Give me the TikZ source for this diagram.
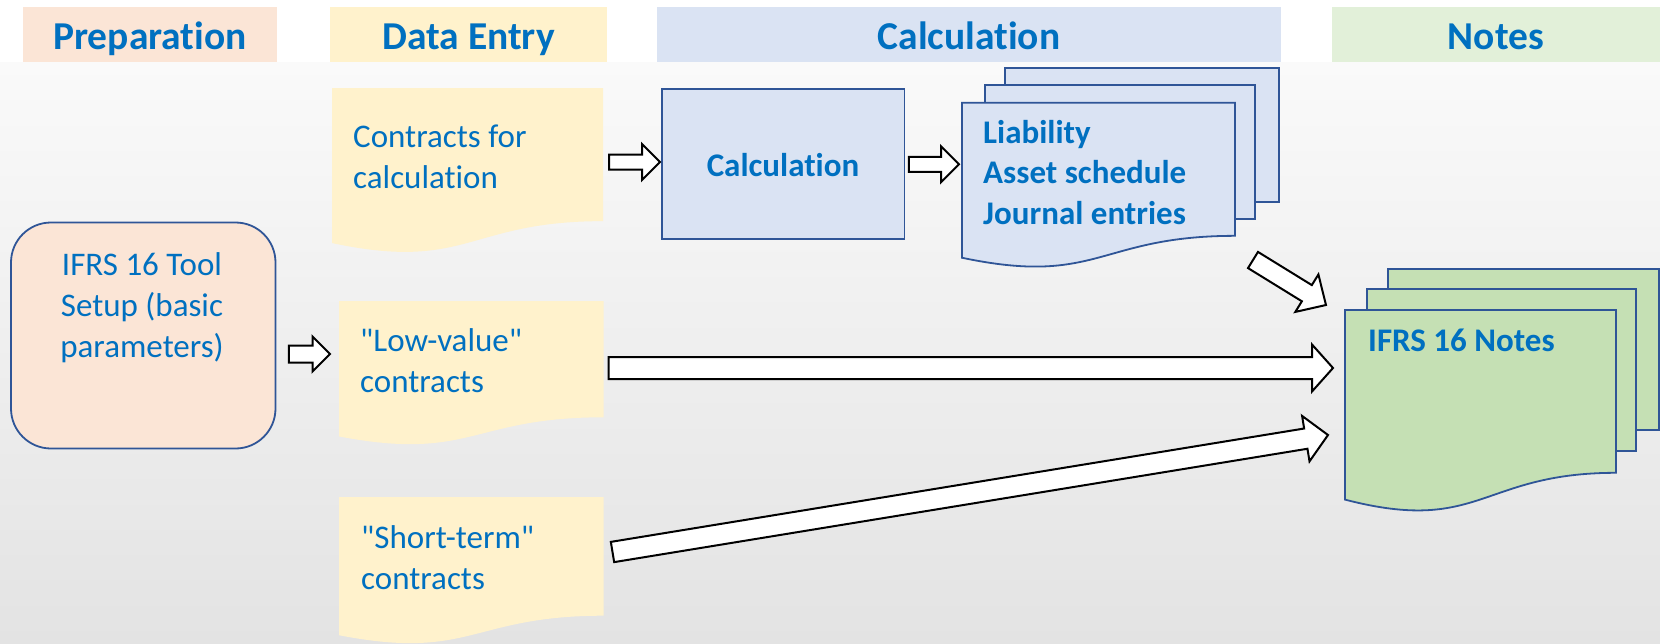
\documentclass[tikz,border=0pt]{standalone}
\usepackage{fontspec}
\setmainfont{Carlito}[Ligatures={TeXOff,NoCommon}]
\usetikzlibrary{calc}

\definecolor{txtblue}{HTML}{0070C0}
\definecolor{edgeblue}{HTML}{2F5597}
\definecolor{hdrpeach}{HTML}{FBE5D6}
\definecolor{docyellow}{HTML}{FFF2CC}
\definecolor{calcblue}{HTML}{DAE3F3}
\definecolor{hdrgreen}{HTML}{E2F0D9}
\definecolor{notegreen}{HTML}{C5E0B4}
\definecolor{bgtop}{RGB}{250,250,250}
\definecolor{bgbot}{RGB}{227,227,227}

% straight double quote
\newcommand\sq{\symbol{34}}

\tikzset{
  hdr/.style={rectangle, inner sep=0pt, minimum height=55pt, text=txtblue,
    font=\fontsize{39.5}{47}\selectfont\bfseries, text height=30pt, text depth=1pt},
  bodytxt/.style={inner sep=0pt, text=txtblue, font=\fontsize{33}{41}\selectfont},
  boldtxt/.style={inner sep=0pt, text=txtblue, font=\fontsize{33}{41}\selectfont\bfseries},
  outline/.style={draw=edgeblue, line width=1.8pt},
  barrow/.style={draw=black, fill=white, line width=2pt, line join=miter},
}

% document shape (flat top, wavy bottom) with an invisible node over its text area
% #1 path options, #2 name, #3 left, #4 top, #5 width, #6 height
\newcommand\docshape[6][]{%
  \path[#1] (#3,#4) -- ({#3+#5},#4) -- ({#3+#5},{#4+0.802*#6})
    .. controls ({#3+0.5*#5},{#4+0.802*#6}) and ({#3+0.5*#5},{#4+1.1075*#6})
    .. (#3,{#4+0.934*#6}) -- cycle;
  \node[inner sep=0pt, minimum width=#5pt, minimum height=0.802*#6pt]
    (#2) at ({#3+0.5*#5},{#4+0.401*#6}) {};
}

% outlined block arrow: #1 tail, #2 tip, #3 half shaft width, #4 half head width, #5 head length
\newcommand\blockarrow[5]{%
  \coordinate (ba-h) at ($(#2)!#5!(#1)$);
  \draw[barrow] ($(#1)!#3!90:(#2)$) -- ($(ba-h)!#3!90:(#2)$) -- ($(ba-h)!#4!90:(#2)$)
    -- (#2) -- ($(ba-h)!#4!-90:(#2)$) -- ($(ba-h)!#3!-90:(#2)$) -- ($(#1)!#3!-90:(#2)$) -- cycle;
}

\begin{document}
\begin{tikzpicture}[x=1pt,y=-1pt]
\useasboundingbox (0,0) rectangle (1660,643);

% background
\fill[white] (0,0) rectangle (1660,62);
\shade[top color=bgtop, bottom color=bgbot] (0,62) rectangle (1660,643);

% column headers
\node[hdr, fill=hdrpeach, minimum width=254pt] (h-prep) at (150,34.5) {Preparation};
\node[hdr, fill=docyellow, minimum width=277pt] (h-data) at (468.5,34.5) {Data Entry};
\node[hdr, fill=calcblue, minimum width=624pt] (h-calc) at (969,34.5) {Calculation};
\node[hdr, fill=hdrgreen, minimum width=328pt] (h-notes) at (1496,34.5) {Notes};

% preparation
\node[outline, fill=hdrpeach, rounded corners=40pt, minimum width=264.5pt,
      minimum height=226pt, inner sep=0pt] (setup) at (143.25,335.5) {};
\node[bodytxt, anchor=base] (setup-l1) at (142,275) {IFRS 16 Tool};
\node[bodytxt, anchor=base] (setup-l2) at (142,316) {Setup (basic};
\node[bodytxt, anchor=base] (setup-l3) at (142,357) {parameters)};

% data entry documents
\docshape[fill=docyellow]{cdoc}{332}{88}{271}{166}
\node[bodytxt, anchor=base west] (cdoc-l1) at (353,147) {Contracts for};
\node[bodytxt, anchor=base west] (cdoc-l2) at (353,188) {calculation};

\docshape[fill=docyellow]{lvdoc}{339}{301}{264.5}{145}
\node[bodytxt, anchor=base west] (lvdoc-l1) at (360,351) {\sq Low-value\sq};
\node[bodytxt, anchor=base west] (lvdoc-l2) at (360,392) {contracts};

\docshape[fill=docyellow]{stdoc}{339}{497}{264.5}{148}
\node[bodytxt, anchor=base west] (stdoc-l1) at (361,548) {\sq Short-term\sq};
\node[bodytxt, anchor=base west] (stdoc-l2) at (361,589) {contracts};

% calculation step
\node[outline, fill=calcblue, minimum width=242.5pt, minimum height=150pt,
      inner sep=0pt] (calc) at (783.25,164.3) {};
\node[boldtxt, anchor=base] (calc-t) at (783,176) {Calculation};

% calculation outputs (stacked documents)
\draw[outline, fill=calcblue] (1005,68.3) rectangle (1278.6,202);
\draw[outline, fill=calcblue] (985,85.3) rectangle (1255,219.3);
\docshape[outline, fill=calcblue]{cdocs}{962}{102.7}{273}{166}
\node[boldtxt, anchor=base west] (cdocs-l1) at (983,143) {Liability};
\node[boldtxt, anchor=base west] (cdocs-l2) at (983,183.5) {Asset schedule};
\node[boldtxt, anchor=base west] (cdocs-l3) at (983,224) {Journal entries};

% notes (stacked documents)
\draw[outline, fill=notegreen] (1388.3,268.7) rectangle (1659,430);
\draw[outline, fill=notegreen] (1367.3,289.3) rectangle (1636,451);
\docshape[outline, fill=notegreen]{notes}{1345}{310}{271}{203}
\node[boldtxt, anchor=base west] (notes-t) at (1368,351) {IFRS 16 Notes};

% connector end points
\coordinate (a0-from) at ($(setup.east)+(12.5,18.5)$);
\coordinate (a0-to)   at (330,354);
\coordinate (a1-from) at ($(cdoc.east |- 0,162)+(6,0)$);
\coordinate (a1-to)   at (660,162);
\coordinate (a2-from) at ($(calc.east)+(3.5,0)$);
\coordinate (a2-to)   at (959,164.3);
\coordinate (a3-from) at (1253,260);
\coordinate (a3-to)   at (1326,305);
\coordinate (a4-from) at (608.5,368);
\coordinate (a4-to)   at (1333,368);
\coordinate (a5-from) at (612.5,552);
\coordinate (a5-to)   at (1328,435);

% connectors
\blockarrow{a0-from}{a0-to}{8.5pt}{17.5pt}{17.5pt}
\blockarrow{a1-from}{a1-to}{7.5pt}{18pt}{18pt}
\blockarrow{a2-from}{a2-to}{7.5pt}{18pt}{18pt}
\blockarrow{a3-from}{a3-to}{9.5pt}{22pt}{22.5pt}
\blockarrow{a4-from}{a4-to}{11pt}{23.5pt}{21pt}
\blockarrow{a5-from}{a5-to}{10.25pt}{23pt}{22.5pt}
\end{tikzpicture}
\end{document}
